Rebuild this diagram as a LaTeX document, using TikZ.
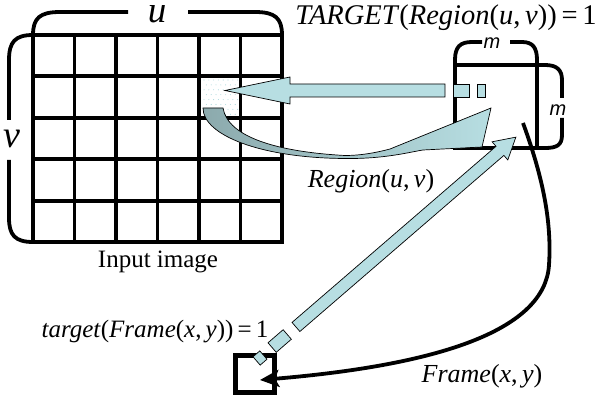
\documentclass[tikz,border=0pt]{standalone}
\usepackage{fontspec}
\setmainfont{Liberation Serif}
\newfontfamily\msans{Liberation Sans}
\usetikzlibrary{arrows.meta}
\definecolor{arrcyan}{RGB}{183,222,226}
\definecolor{tailteal}{RGB}{140,170,173}
\definecolor{dotcyan}{RGB}{175,218,222}
\begin{document}
\begin{tikzpicture}[x=1pt,y=-1pt,
  thickline/.style={line width=3.8pt},
  blockarrow/.style={fill=arrcyan,draw=black,line width=0.7pt,line join=miter},
  lbl/.style={inner sep=0pt,anchor=base},
  bigtxt/.style={font=\fontsize{26}{26}\selectfont},
  msty/.style={font=\msans\itshape\fontsize{20}{20}\selectfont},
]
\useasboundingbox (0,0) rectangle (600,401);

% highlighted cell (faint dots)
\foreach \i in {0,...,7}
  \foreach \j in {0,...,7}
    \fill[dotcyan] ({204+\i*4.8+mod(\j,2)*2.4},{80+\j*4.9}) circle (0.55);

% input image grid
\foreach \x in {33,74.5,116,157.5,199,240.5,282}
  \draw[thickline] (\x,33.1) -- (\x,243.9);
\foreach \y in {35,76.4,117.8,159.2,200.6,242}
  \draw[thickline] (31.1,\y) -- (283.9,\y);

% braces u and v
\draw[thickline] (33,35) .. controls (33,18) and (40,12) .. (60,12) -- (128,12);
\draw[thickline] (188,12) -- (255,12) .. controls (275,12) and (282,18) .. (282,35);
\draw[thickline] (33,35) .. controls (15,35) and (9,42) .. (9,60) -- (9,120);
\draw[thickline] (9,160) -- (9,218) .. controls (9,235) and (15,242) .. (33,242);
\node[lbl,text height=16pt,font=\itshape\fontsize{37}{37}\selectfont] (ulbl) at (157,23) {u};
\node[lbl,text height=18pt,font=\itshape\fontsize{38}{38}\selectfont] (vlbl) at (12,148) {v};

% small region box with braces m
\draw[thickline] (455,148) -- (455,60) .. controls (455,47) and (460,42) .. (472,42) -- (482,42);
\draw[thickline] (510,42) -- (522,42) .. controls (533,42) and (537,48) .. (537,60) -- (537,148);
\draw[thickline] (455,65) -- (545,65) .. controls (557,65) and (562,70) .. (562,80) -- (562,98);
\draw[thickline] (562,118) -- (562,135) .. controls (562,145) and (557,148) .. (545,148) -- (453,148);
\node[lbl,msty] (mtop) at (492,49) {m};
\node[lbl,msty] (mright) at (558,116) {m};

% frame square
\draw[line width=5pt] (235.5,355.5) rectangle (274.5,392.5);

% black curved arrow Frame(x,y)
\coordinate (cstart) at (523,123);
\coordinate (cend) at (260,380);
\draw[thickline,-{Stealth[length=19pt,width=17pt,inset=4pt]}] (cstart) .. controls (542,175) and (552,220) .. (549,265) .. controls (545,330) and (440,365) .. (cend);

% TARGET arrow (horizontal, pointing left)
\draw[blockarrow] (445,84) -- (290,84) -- (290,77) -- (225,90.5) -- (290,104) -- (290,97) -- (445,97) -- cycle;
\draw[blockarrow] (453,84) rectangle (469,97);
\draw[blockarrow] (477,84) rectangle (485,97);

% curved region arrow
\draw[draw=black,line width=0.7pt,left color=tailteal,middle color=white,right color=arrcyan]
  (203,108) .. controls (203,135) and (260,158) .. (345,158.5)
  .. controls (385,159) and (410,152) .. (423,150)
  -- (482,147) -- (491,108) -- (390,149)
  .. controls (375,153) and (360,155.5) .. (345,155.5)
  .. controls (280,152) and (228,138) .. (223,108) -- cycle;

% diagonal arrow from frame to region box
\begin{scope}[shift={(260,358)},rotate=40.8]
  \draw[blockarrow] (-4.5,-5.5) rectangle (4.5,5.5);
  \draw[blockarrow] (16,-6.3) rectangle (36,6.3);
  \draw[blockarrow] (47.5,-6) -- (317,-6) -- (317,-12) -- (338,0) -- (317,12) -- (317,6) -- (47.5,6) -- cycle;
\end{scope}

% labels
\node[lbl,font=\fontsize{28.5}{28.5}\selectfont] (tgt) at (446,25) {\textit{TARGET}(\textit{Region}(\textit{u},\,\textit{v}))\,=\,1};
\node[lbl,bigtxt] (reg) at (371,188) {\textit{Region}(\textit{u},\,\textit{v})};
\node[lbl,font=\fontsize{25}{25}\selectfont] (inp) at (158,267) {Input image};
\node[lbl,font=\fontsize{25}{25}\selectfont] (tf) at (155,337) {\textit{target}(\textit{Frame}(\textit{x},\,\textit{y}))\,=\,1};
\node[lbl,bigtxt] (fr) at (482,382) {\textit{Frame}(\textit{x},\,\textit{y})};
\end{tikzpicture}
\end{document}
